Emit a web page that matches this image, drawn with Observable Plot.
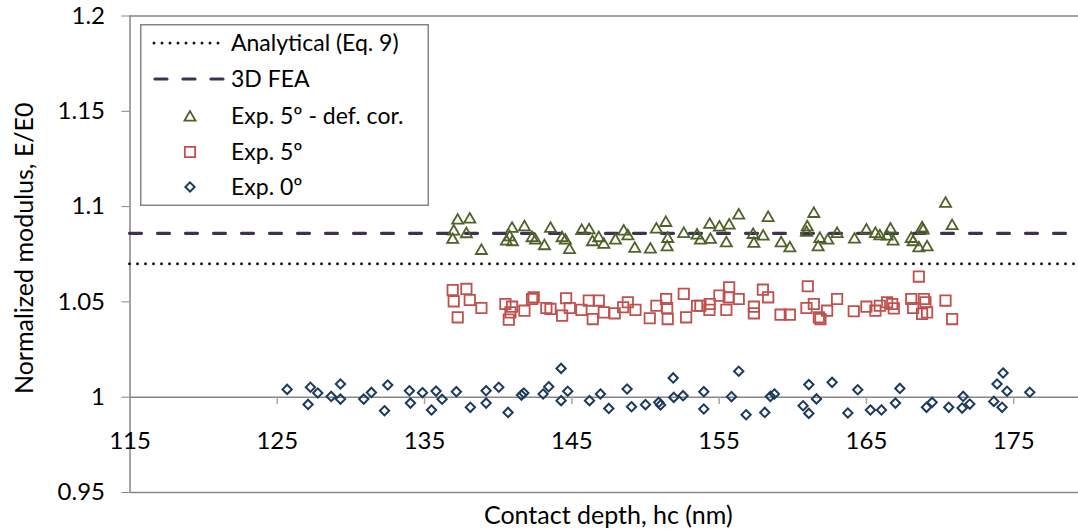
<!DOCTYPE html>
<html><head><meta charset="utf-8">
<script src="https://cdn.jsdelivr.net/npm/d3@7"></script>
<script src="https://cdn.jsdelivr.net/npm/@observablehq/plot@0.6"></script>
<style>
body{margin:0;background:#fff;}
#wrap{position:relative;width:1078px;height:529px;font-family:Lato,sans-serif;}
#legend{position:absolute;left:140px;top:24px;}
</style></head><body><div id="wrap"></div>
<script>
const xTicks = [115,125,135,145,155,165,175];
const yTicks = [0.95,1,1.05,1.1,1.15,1.2];
const analyticalValue = 1.07;
const feaValue = 1.086;

const defCorX = [137.25,138.07,136.98,136.91,137.84,138.86,140.56,140.94,140.78,140.97,141.78,142.30,142.53,143.14,143.55,144.34,144.56,144.84,145.67,146.17,146.40,146.83,147.17,147.96,148.52,148.80,149.27,150.33,150.74,151.38,151.51,151.47,152.60,153.50,153.73,154.36,154.41,155.02,155.49,155.68,156.33,157.31,157.36,157.99,158.33,159.21,159.80,161.43,160.98,160.93,161.84,161.72,162.38,163.01,164.19,165.00,165.61,165.91,166.63,166.41,166.81,168.04,168.17,168.56,168.78,168.85,169.12,170.37,170.82];
const defCorY = [1.0935,1.0941,1.0878,1.0834,1.0864,1.0776,1.0825,1.0892,1.0848,1.0822,1.0900,1.0843,1.0830,1.0801,1.0892,1.0843,1.0830,1.0781,1.0881,1.0884,1.0822,1.0843,1.0808,1.0830,1.0878,1.0853,1.0787,1.0783,1.0888,1.0923,1.0839,1.0795,1.0865,1.0857,1.0830,1.0913,1.0834,1.0899,1.0816,1.0909,1.0962,1.0860,1.0813,1.0851,1.0949,1.0816,1.0790,1.0970,1.0900,1.0871,1.0839,1.0795,1.0830,1.0865,1.0836,1.0883,1.0865,1.0853,1.0888,1.0851,1.0825,1.0839,1.0822,1.0790,1.0895,1.0883,1.0795,1.1023,1.0906];

const exp5X = [136.91,137.84,136.98,138.07,138.86,137.25,140.49,140.94,140.83,140.72,141.78,142.41,142.30,143.27,143.55,144.34,144.61,144.86,145.65,146.15,146.42,146.83,147.17,147.91,148.48,148.80,149.32,150.29,150.74,151.40,151.47,151.51,152.60,152.76,153.50,153.73,154.36,154.34,155.02,155.49,155.68,155.65,156.33,157.36,157.36,157.97,158.33,159.17,159.80,161.02,160.93,161.43,161.77,161.88,162.33,163.01,164.14,165.00,165.61,165.91,166.41,166.75,166.86,168.04,168.17,168.56,168.90,169.01,168.78,169.12,170.37,170.82];
const exp5Y = [1.0562,1.0568,1.0503,1.0510,1.0468,1.0419,1.0489,1.0475,1.0445,1.0407,1.0454,1.0524,1.0515,1.0468,1.0463,1.0428,1.0519,1.0468,1.0458,1.0507,1.0410,1.0507,1.0445,1.0440,1.0472,1.0498,1.0458,1.0414,1.0480,1.0515,1.0468,1.0410,1.0542,1.0419,1.0480,1.0480,1.0489,1.0458,1.0533,1.0458,1.0577,1.0524,1.0515,1.0475,1.0440,1.0564,1.0524,1.0433,1.0433,1.0582,1.0468,1.0489,1.0419,1.0410,1.0454,1.0515,1.0451,1.0475,1.0454,1.0480,1.0498,1.0489,1.0466,1.0515,1.0468,1.0633,1.0515,1.0498,1.0437,1.0445,1.0507,1.0410];

const exp0X = [125.67,127.25,127.09,127.75,128.66,129.29,129.29,130.87,131.39,132.28,132.50,133.97,134.04,134.86,135.47,135.78,136.19,137.16,138.11,139.18,139.18,140.04,140.67,141.58,141.74,143.05,143.43,144.27,144.27,144.72,146.20,146.94,147.51,148.75,149.05,150.00,150.90,151.02,151.88,151.92,152.55,153.96,153.96,155.84,156.33,156.83,158.10,158.48,158.75,160.70,161.09,161.09,161.61,162.67,163.74,164.41,165.27,166.02,166.97,167.27,169.08,169.46,170.59,171.57,171.50,172.02,173.65,173.87,174.28,174.55,174.21,176.09];
const exp0Y = [1.0041,1.0052,0.9962,1.0022,1.0004,1.0069,0.9990,0.9990,1.0025,0.9929,1.0064,1.0034,0.9969,1.0024,0.9933,1.0032,0.9989,1.0029,0.9947,1.0034,0.9969,1.0052,0.9920,1.0011,1.0022,1.0017,1.0055,1.0151,0.9982,1.0031,0.9982,1.0017,0.9941,1.0043,0.9950,0.9961,0.9973,0.9959,1.0101,0.9999,1.0008,1.0029,0.9938,1.0003,1.0136,0.9908,0.9920,1.0004,1.0017,0.9955,1.0066,0.9915,0.9991,1.0078,0.9917,1.0039,0.9933,0.9933,0.9969,1.0046,0.9947,0.9973,0.9947,1.0004,0.9943,0.9964,0.9978,1.0069,1.0127,1.0031,0.9947,1.0026];

const legendLabels = ["Analytical (Eq. 9)","3D FEA","Exp. 5º - def. cor.","Exp. 5º","Exp. 0º"];

const FONT = "Lato, sans-serif";
const C_TRI = "#4F6228", C_SQ = "#C0504D", C_DIA = "#1B3A5E", C_FEA = "#403152", C_AN = "#1a1a1a", C_AX = "#868686";
const pts = (xs, ys) => xs.map((x, i) => ({x, y: ys[i]}));

const plot = Plot.plot({
  width: 1078, height: 529,
  marginLeft: 129.5, marginRight: 0, marginTop: 15.5, marginBottom: 37,
  x: {domain: [115, 179.4], axis: null},
  y: {domain: [0.95, 1.2]},
  style: {fontFamily: FONT, background: "white", overflow: "visible"},
  marks: [
    Plot.ruleY([1.2, 0.95], {stroke: C_AX, strokeWidth: 1.5}),
    Plot.ruleX([115], {stroke: C_AX, strokeWidth: 1.5}),
    Plot.ruleY([1], {stroke: C_AX, strokeWidth: 1.5}),
    Plot.ruleX(xTicks.slice(1), {x: d => d, y1: 1, y2: 0.9962, stroke: "#a6a6a6", strokeWidth: 1.5}),
    Plot.axisY({ticks: yTicks, tickSize: 8, tickPadding: 17, stroke: C_AX, fill: "black", fontSize: 24, label: null, tickFormat: d => String(d)}),
    Plot.text(xTicks, {x: d => d, y: 1, dy: 44, text: d => String(d), fontSize: 24, fill: "black"}),
    Plot.ruleY([analyticalValue], {stroke: C_AN, strokeWidth: 3, strokeDasharray: "0 8", strokeLinecap: "round"}),
    Plot.ruleY([feaValue], {stroke: C_FEA, strokeWidth: 3.2, strokeDasharray: "12 16", strokeLinecap: "round"}),
    Plot.dot(pts(defCorX, defCorY), {x: "x", y: "y", symbol: "triangle2", r: 5.3, stroke: C_TRI, strokeWidth: 1.8, dy: 1.5}),
    Plot.dot(pts(exp5X, exp5Y), {x: "x", y: "y", symbol: "square2", r: 6.6, stroke: C_SQ, strokeWidth: 1.8}),
    Plot.dot(pts(exp0X, exp0Y), {x: "x", y: "y", symbol: "diamond2", r: 4.2, stroke: C_DIA, strokeWidth: 2}),
    Plot.text(["Normalized modulus, E/E0"], {frameAnchor: "left", rotate: -90, dx: -105, dy: -6, text: d => d, textAnchor: "middle", lineAnchor: "middle", fontSize: 25, fill: "black"}),
    Plot.text(["Contact depth, hc (nm)"], {frameAnchor: "bottom", dy: 23, dx: 4, text: d => d, lineAnchor: "middle", textAnchor: "middle", fontSize: 25, fill: "black"})
  ]
});
const wrap = document.getElementById("wrap");
wrap.appendChild(plot);

// legend overlay
const lw = 289, lh = 182;
const leg = d3.select(wrap).append("svg").attr("id", "legend").attr("width", lw).attr("height", lh);
leg.append("rect").attr("x", 0.75).attr("y", 0.75).attr("width", lw - 1.5).attr("height", lh - 1.5)
  .attr("fill", "white").attr("stroke", C_AX).attr("stroke-width", 1.5);
const rowY = [19, 55, 92, 128, 163];
const symX = 50;
leg.append("line").attr("x1", 14).attr("x2", 84).attr("y1", rowY[0]).attr("y2", rowY[0])
  .attr("stroke", C_AN).attr("stroke-width", 3).attr("stroke-dasharray", "0 8").attr("stroke-linecap", "round");
leg.append("line").attr("x1", 15).attr("x2", 85).attr("y1", rowY[1]).attr("y2", rowY[1])
  .attr("stroke", C_FEA).attr("stroke-width", 3.2).attr("stroke-dasharray", "12 16").attr("stroke-linecap", "round");
const syms = [[d3.symbolTriangle2, 5.3, C_TRI, 1.8, 1.5], [d3.symbolSquare2, 6.6, C_SQ, 1.8, 0], [d3.symbolDiamond2, 4.2, C_DIA, 2, 0]];
syms.forEach(([t, r, c, w, dy], i) => {
  leg.append("path").attr("d", d3.symbol(t, Math.PI * r * r)())
    .attr("transform", `translate(${symX},${rowY[i + 2] + dy})`)
    .attr("fill", "none").attr("stroke", c).attr("stroke-width", w);
});
legendLabels.forEach((t, i) => {
  leg.append("text").attr("x", 91).attr("y", rowY[i]).attr("dy", "0.35em")
    .attr("font-family", FONT).attr("font-size", 23).attr("fill", "black").text(t);
});
</script></body></html>
